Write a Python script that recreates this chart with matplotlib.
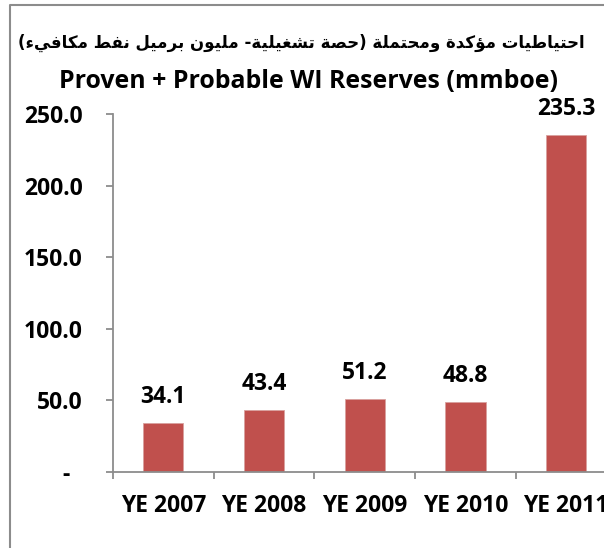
import matplotlib
matplotlib.use("Agg")
import matplotlib.pyplot as plt
from matplotlib.lines import Line2D

# data
years = ["YE 2007", "YE 2008", "YE 2009", "YE 2010", "YE 2011"]
reserves = [34.1, 43.4, 51.2, 48.8, 235.3]
yticks = [0, 50, 100, 150, 200, 250]
ytick_labels = ["-  ", "50.0", "100.0", "150.0", "200.0", "250.0"]
title_ar = "احتياطيات مؤكدة ومحتملة (حصة تشغيلية- مليون برميل نفط مكافيء)"
title_en = "Proven + Probable WI Reserves (mmboe)"

# matplotlib has no arabic shaping, so pick presentation forms by hand
# forms: isolated, final, initial, medial
FORMS = {
    'ء': ('\ufe80',),
    'ؤ': ('\ufe85', '\ufe86'),
    'ا': ('\ufe8d', '\ufe8e'),
    'ب': ('\ufe8f', '\ufe90', '\ufe91', '\ufe92'),
    'ة': ('\ufe93', '\ufe94'),
    'ت': ('\ufe95', '\ufe96', '\ufe97', '\ufe98'),
    'ح': ('\ufea1', '\ufea2', '\ufea3', '\ufea4'),
    'د': ('\ufea9', '\ufeaa'),
    'ر': ('\ufead', '\ufeae'),
    'ش': ('\ufeb5', '\ufeb6', '\ufeb7', '\ufeb8'),
    'ص': ('\ufeb9', '\ufeba', '\ufebb', '\ufebc'),
    'ط': ('\ufec1', '\ufec2', '\ufec3', '\ufec4'),
    'غ': ('\ufecd', '\ufece', '\ufecf', '\ufed0'),
    'ف': ('\ufed1', '\ufed2', '\ufed3', '\ufed4'),
    'ك': ('\ufed9', '\ufeda', '\ufedb', '\ufedc'),
    'ل': ('\ufedd', '\ufede', '\ufedf', '\ufee0'),
    'م': ('\ufee1', '\ufee2', '\ufee3', '\ufee4'),
    'ن': ('\ufee5', '\ufee6', '\ufee7', '\ufee8'),
    'و': ('\ufeed', '\ufeee'),
    'ي': ('\ufef1', '\ufef2', '\ufef3', '\ufef4'),
}


def shape_rtl(text):
    out = []
    for i, ch in enumerate(text):
        f = FORMS.get(ch)
        if f is None:
            out.append(ch)
            continue
        prev = text[i - 1] if i > 0 else ''
        nxt = text[i + 1] if i + 1 < len(text) else ''
        jp = len(f) > 1 and len(FORMS.get(prev, ())) == 4
        jn = len(f) == 4 and len(FORMS.get(nxt, ())) > 1
        if jp and jn:
            out.append(f[3])
        elif jn:
            out.append(f[2])
        elif jp:
            out.append(f[1])
        else:
            out.append(f[0])
    s = ''.join(out)[::-1]
    return s.translate(str.maketrans('()', ')('))


plt.rcParams['font.family'] = ['Open Sans', 'DejaVu Sans']
plt.rcParams['font.weight'] = 'bold'

W, H = 604, 548
fig = plt.figure(figsize=(W / 100, H / 100), dpi=100)
ax = fig.add_axes([113 / W, 76 / H, 503.5 / W, 358 / H])

grey = '#8c8c8c'
x = range(len(years))
ax.bar(x, reserves, width=0.4, color='#C0504D', edgecolor='#d9a09e', linewidth=0.6)

for xi, v in zip(x, reserves):
    ax.annotate(f"{v:.1f}", (xi, v), xytext=(0, 14.4), textcoords='offset points',
                ha='center', va='baseline', fontsize=16.5, fontweight='bold')

ax.set_xlim(-0.5, len(years) - 0.5)
ax.set_ylim(0, 250)
ax.set_yticks(yticks)
ax.set_yticklabels(ytick_labels)
ax.set_xticks([i - 0.5 for i in range(len(years) + 1)])
ax.set_xticklabels([])
ax.set_xticks(list(x), minor=True)
ax.set_xticklabels(years, minor=True)

ax.tick_params(axis='y', length=5, width=1.3, color=grey, pad=17, labelsize=16.5)
ax.tick_params(axis='x', which='major', length=5, width=1.3, color=grey)
ax.tick_params(axis='x', which='minor', length=0, pad=16, labelsize=16.5)
for side in ['top', 'right']:
    ax.spines[side].set_visible(False)
for side in ['left', 'bottom']:
    ax.spines[side].set_color(grey)
    ax.spines[side].set_linewidth(1.3)

fig.text(301 / W, 1 - 43 / H, shape_rtl(title_ar), ha='center', va='center',
         fontsize=12, fontweight='bold', family=['DejaVu Sans'])
fig.text(308 / W, 1 - 88 / H, title_en, ha='center', va='baseline',
         fontsize=17.9, fontweight='bold')

# chart border, only the left and top edges fall inside the picture
fig.add_artist(Line2D([10 / W, 10 / W, 1.0], [0.0, 1 - 4.5 / H, 1 - 4.5 / H],
                      transform=fig.transFigure, color=grey, linewidth=1.5))

fig.savefig("out.png", dpi=100)
